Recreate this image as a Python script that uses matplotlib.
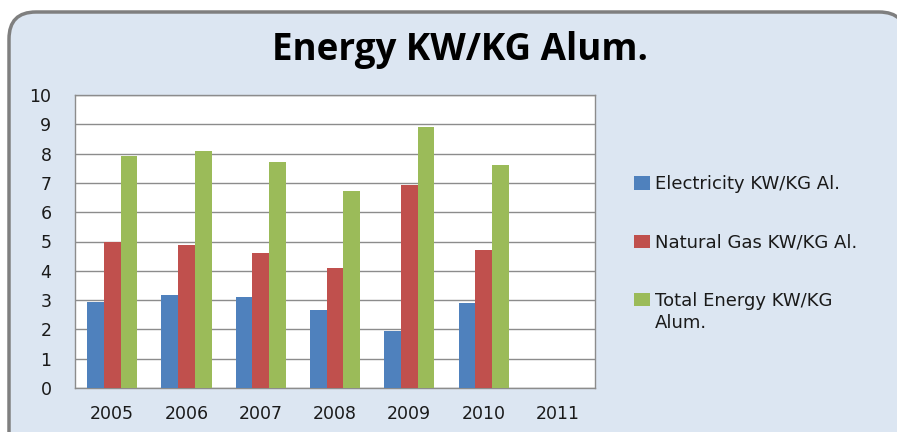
import numpy as np
import matplotlib.pyplot as plt
from matplotlib.patches import FancyBboxPatch

years = ["2005", "2006", "2007", "2008", "2009", "2010", "2011"]
electricity = [2.92, 3.18, 3.09, 2.67, 1.96, 2.90, np.nan]
natural_gas = [5.00, 4.89, 4.60, 4.08, 6.92, 4.70, np.nan]
total_energy = [7.92, 8.09, 7.70, 6.73, 8.90, 7.60, np.nan]

series = [
    ("Electricity KW/KG Al.", electricity, "#4F81BD"),
    ("Natural Gas KW/KG Al.", natural_gas, "#C0504D"),
    ("Total Energy KW/KG", total_energy, "#9BBB59"),
]

plt.rcParams['font.family'] = ['DejaVu Sans']

fig = plt.figure(figsize=(8.97, 4.32), dpi=100)
fig.patch.set_facecolor("white")

# rounded chart frame, runs off the right and bottom edges
frame = FancyBboxPatch((9 / 897, -0.1), 1.0, 1.1 - 12 / 432,
                       boxstyle="round,pad=0,rounding_size=0.03",
                       transform=fig.transFigure, facecolor="#DCE6F2",
                       edgecolor="#7F7F7F", linewidth=2.5, zorder=-5,
                       mutation_aspect=897 / 432)
fig.patches.append(frame)

ax = fig.add_axes([75 / 897, 44 / 432, 520 / 897, 293 / 432])
ax.set_zorder(2)
ax.set_facecolor("white")

x = np.arange(len(years))
w = 0.225
for i, (name, vals, col) in enumerate(series):
    ax.bar(x + (i - 1) * w, vals, width=w, color=col, label=name, zorder=3)

ax.set_xlim(-0.5, len(years) - 0.5)
ax.set_ylim(0, 10)
ax.set_yticks(range(0, 11))
ax.set_xticks(x)
ax.set_xticklabels(years)
ax.yaxis.grid(True, color="#8C8C8C", linewidth=1, zorder=0)
ax.tick_params(axis="both", length=0, labelsize=12.5, colors="#1A1A1A")
ax.tick_params(axis="x", pad=12)
ax.tick_params(axis="y", pad=17)
for s in ax.spines.values():
    s.set_color("#8C8C8C")
    s.set_linewidth(1)

fig.text(460 / 897, 1 - 50 / 432, "Energy KW/KG Alum.", ha="center",
         va="center", fontsize=26.5, fontweight="bold",
         family=["Open Sans", "DejaVu Sans"])

leg = ax.legend(loc="upper left", bbox_to_anchor=(1.058, 0.757), frameon=False,
                fontsize=13, handlelength=0.85, handleheight=0.75,
                handletextpad=0.3, labelspacing=2.23, borderpad=0)
for t in leg.get_texts():
    t.set_color("#1A1A1A")
# second line of the last legend entry
ax.annotate("Alum.", xy=(0, 0), xycoords=leg.get_texts()[2],
            xytext=(0, -3), textcoords="offset points", va="top", ha="left",
            fontsize=13, color="#1A1A1A", zorder=10)

fig.savefig("out.png", dpi=100, facecolor=fig.get_facecolor())
